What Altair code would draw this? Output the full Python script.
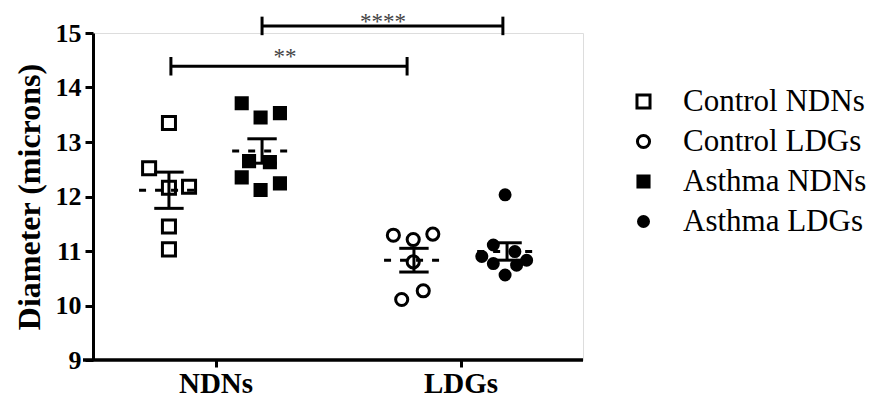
import altair as alt
import pandas as pd

# ---- data ----
series_names = ["Control NDNs", "Control LDGs", "Asthma NDNs", "Asthma LDGs"]
group_labels = ["NDNs", "LDGs"]
group_pos = [1, 2]
series_centers = [0.81, 1.81, 1.19, 2.19]

ctrl_ndn_y = [13.35, 12.52, 12.16, 12.18, 11.45, 11.03]
ctrl_ndn_x = [0.810, 0.729, 0.810, 0.892, 0.810, 0.810]

ctrl_ldg_y = [11.29, 11.21, 11.31, 10.80, 10.11, 10.27]
ctrl_ldg_x = [1.726, 1.807, 1.887, 1.807, 1.760, 1.848]

asth_ndn_y = [13.71, 13.45, 13.53, 12.65, 12.63, 12.35, 12.12, 12.24]
asth_ndn_x = [1.107, 1.184, 1.263, 1.137, 1.222, 1.107, 1.184, 1.263]

asth_ldg_y = [12.03, 11.11, 10.99, 10.90, 10.77, 10.74, 10.83, 10.56]
asth_ldg_x = [2.182, 2.134, 2.222, 2.087, 2.134, 2.229, 2.270, 2.182]

bracket_x1 = [0.818, 1.19]
bracket_x2 = [1.782, 2.173]
bracket_y = [14.39, 15.13]
bracket_label = ["**", "****"]
bracket_label_x = [1.284, 1.684]
bracket_label_y = [14.43, 15.08]

# ---- tables ----
ys = [ctrl_ndn_y, ctrl_ldg_y, asth_ndn_y, asth_ldg_y]
xs = [ctrl_ndn_x, ctrl_ldg_x, asth_ndn_x, asth_ldg_x]
rows = []
for name, cx, xv, yv in zip(series_names, series_centers, xs, ys):
    for a, b in zip(xv, yv):
        rows.append({"series": name, "center": cx, "x": a, "value": b})
points = pd.DataFrame(rows)

brackets = pd.DataFrame({"x1": bracket_x1, "x2": bracket_x2, "y": bracket_y,
                         "label": bracket_label, "lx": bracket_label_x,
                         "ly": bracket_label_y})
ends = pd.DataFrame({"x": bracket_x1 + bracket_x2, "y": bracket_y + bracket_y})

FONT = "Liberation Serif"
xscale = alt.Scale(domain=[0.5, 2.5], nice=False, zero=False)
yscale = alt.Scale(domain=[9, 15], nice=False, zero=False)

label_expr = " : ".join(
    [f"datum.value == {p} ? '{l}'" for p, l in zip(group_pos[:-1], group_labels[:-1])]
    + [f"'{group_labels[-1]}'"])

xaxis = alt.Axis(values=group_pos, labelExpr=label_expr, domain=False, grid=False,
                 tickSize=7, tickWidth=3, tickColor="black",
                 labelFont=FONT, labelFontWeight="bold", labelFontSize=29,
                 labelColor="black", labelBaseline="bottom", labelPadding=31)
yaxis = alt.Axis(values=[9, 10, 11, 12, 13, 14, 15], grid=False,
                 domainWidth=3, domainColor="black", tickSize=8, tickWidth=3,
                 tickColor="black", labelFont=FONT, labelFontWeight="bold",
                 labelFontSize=26, labelColor="black", labelPadding=4,
                 titleFont=FONT, titleFontWeight="bold", titleFontSize=32,
                 titleColor="black", titlePadding=9)

def X(f):
    return alt.X(f, type="quantitative", scale=xscale, axis=xaxis, title=None)

def Y(f):
    return alt.Y(f, type="quantitative", scale=yscale, axis=yaxis,
                 title="Diameter (microns)")

legend = alt.Legend(orient="none", legendX=535, legendY=53, title=None,
                    labelFont=FONT, labelFontSize=31, labelColor="black",
                    labelLimit=0, symbolStrokeWidth=3, symbolStrokeColor="black",
                    symbolOpacity=1, rowPadding=8, labelOffset=24, padding=0)

pts = alt.Chart(points).mark_point(strokeWidth=3, opacity=1, filled=False).encode(
    x=X("x"), y=Y("value"),
    shape=alt.Shape("series:N", scale=alt.Scale(domain=series_names,
                    range=["square", "circle", "square", "circle"]), legend=legend),
    fill=alt.Fill("series:N", scale=alt.Scale(domain=series_names,
                  range=["white", "white", "black", "black"]), legend=legend),
    stroke=alt.Stroke("series:N", scale=alt.Scale(domain=series_names,
                      range=["black", "black", "black", "black"]), legend=legend),
    size=alt.Size("series:N", scale=alt.Scale(domain=series_names,
                  range=[170, 100, 125, 115]), legend=legend),
)

stats = alt.Chart(points).transform_aggregate(
    mean="mean(value)", se="stderr(value)", groupby=["series", "center"]
).transform_calculate(
    lo="datum.mean - datum.se", hi="datum.mean + datum.se",
    ml="datum.center - 0.122", mr="datum.center + 0.122",
    cl="datum.center - 0.06", cr="datum.center + 0.06",
)

mean_line = stats.mark_rule(strokeWidth=3, color="black", strokeDash=[7, 9]).encode(
    x=X("ml:Q"), x2="mr:Q", y=Y("mean:Q"))
err = stats.mark_rule(strokeWidth=3, color="black").encode(
    x=X("center:Q"), y=Y("lo:Q"), y2="hi:Q")
cap_hi = stats.mark_rule(strokeWidth=3, color="black").encode(
    x=X("cl:Q"), x2="cr:Q", y=Y("hi:Q"))
cap_lo = stats.mark_rule(strokeWidth=3, color="black").encode(
    x=X("cl:Q"), x2="cr:Q", y=Y("lo:Q"))

br = alt.Chart(brackets).mark_rule(strokeWidth=3, color="black").encode(
    x=X("x1"), x2="x2", y=Y("y"))
br_ends = alt.Chart(ends).transform_calculate(
    y1="datum.y - 0.17", y2="datum.y + 0.17").mark_rule(
    strokeWidth=3, color="black").encode(x=X("x"), y=Y("y1:Q"), y2="y2:Q")
br_text = alt.Chart(brackets).mark_text(
    font=FONT, fontSize=23, color="#444444", baseline="alphabetic").encode(
    x=X("lx"), y=Y("ly"), text="label")

xdomain = alt.Chart(brackets).mark_rule(strokeWidth=3, color="black").encode(
    x=alt.value(-10), x2=alt.value(490), y=alt.value(327))

chart = alt.layer(pts, mean_line, err, cap_hi, cap_lo, br, br_ends, br_text, xdomain).properties(
    width=490, height=327,
    autosize=alt.AutoSizeParams(type="none"),
    padding={"left": 85, "top": 25, "right": 288, "bottom": 39},
).configure_view(stroke=None).configure(background="white")

chart.save("out.html", embed_options={"renderer": "svg", "actions": False})
